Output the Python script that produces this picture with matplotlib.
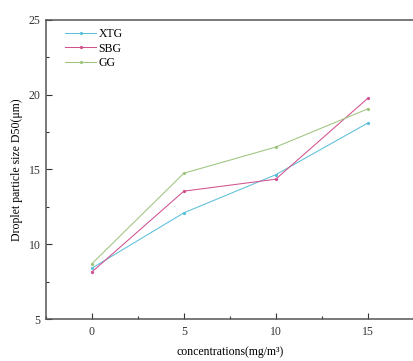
import numpy as np
import matplotlib.pyplot as plt
from matplotlib.ticker import MultipleLocator

plt.rcParams['font.family'] = ['Liberation Serif', 'DejaVu Serif']

# data
concentrations = [0, 5, 10, 15]
xtg = [8.4, 12.1, 14.65, 18.1]
sbg = [8.15, 13.55, 14.35, 19.75]
gg = [8.7, 14.75, 16.5, 19.05]

series = [('XTG', xtg, '#5bbfd9'), ('SBG', sbg, '#d1518f'), ('GG', gg, '#9ec47e')]

fig = plt.figure(figsize=(4.14, 3.61), dpi=100)
ax = fig.add_axes([46 / 414, 42 / 361, 367.5 / 414, 299 / 361])

for name, vals, col in series:
    ax.plot(concentrations, vals, color=col, lw=0.75, marker='o', ms=1.3,
            label=name)

ax.set_xlim(-2.5, 17.5)
ax.set_ylim(5, 25)
ax.xaxis.set_major_locator(MultipleLocator(5))
ax.xaxis.set_minor_locator(MultipleLocator(2.5))
ax.yaxis.set_major_locator(MultipleLocator(5))
ax.yaxis.set_minor_locator(MultipleLocator(2.5))
ax.tick_params(which='both', direction='in', labelsize=8.5, width=0.8, colors='#333333')
ax.tick_params(which='major', length=4)
ax.tick_params(which='minor', length=2)
ax.tick_params(axis='x', pad=5)
ax.tick_params(axis='y', pad=4)

for s in ['left', 'bottom', 'top']:
    ax.spines[s].set_color('#555555')
    ax.spines[s].set_linewidth(1.1)
ax.spines['right'].set_color('#dddddd')
ax.spines['right'].set_linewidth(0.8)

ax.set_xlabel('concentrations(mg/m³)', fontsize=8.5, labelpad=6)
ax.set_ylabel('Droplet particle size D50(μm)', fontsize=8.5, labelpad=4)

ax.legend(loc='upper left', frameon=False, fontsize=8.5, handlelength=2.6,
          handletextpad=0.2, labelspacing=0.2, borderaxespad=0.3,
          bbox_to_anchor=(0.03, 1.0))

fig.savefig('out.png', dpi=100)
